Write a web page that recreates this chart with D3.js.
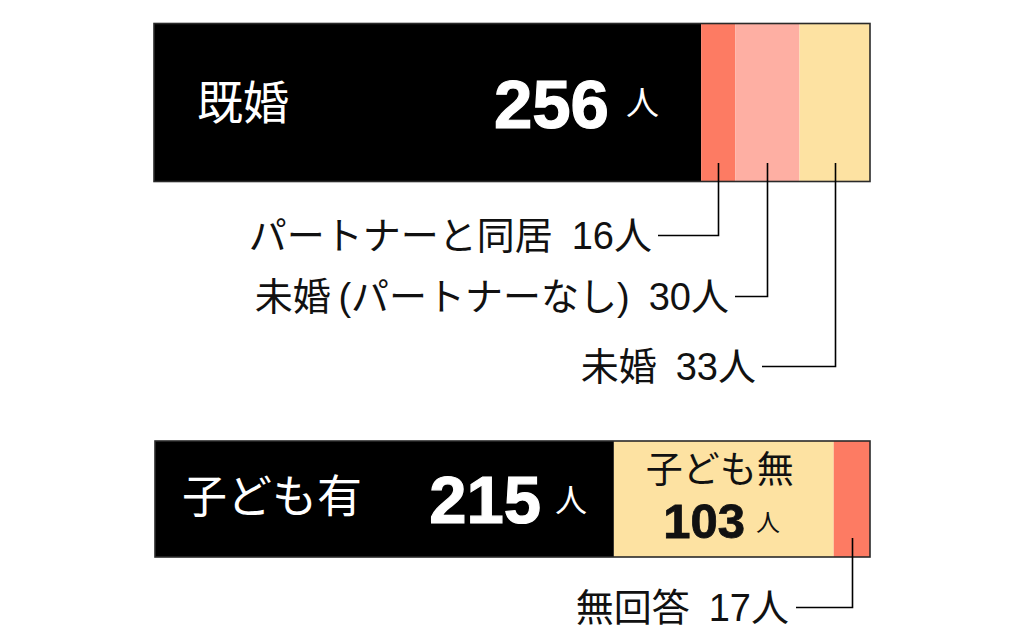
<!DOCTYPE html>
<html><head><meta charset="utf-8">
<script src="https://cdn.jsdelivr.net/npm/d3@7"></script>
<style>html,body{margin:0;padding:0;background:#fff;}svg{display:block;}</style>
</head><body>
<script>
// ---- data ----
const maritalCategories = ["既婚", "パートナーと同居", "未婚\u2009(パートナーなし)", "未婚"];
const maritalValues = [256, 16, 30, 33];
const childCategories = ["子ども有", "子ども無", "無回答"];
const childValues = [215, 103, 17];
const unit = "人";

// ---- layout ----
const W = 1020, H = 637;
const colors = ["#000000", "#fd7b63", "#feafa3", "#fde2a2"];
const childColors = ["#000000", "#fde2a2", "#fd7b63"];
const latin = "'Liberation Sans', 'Noto Sans CJK JP', sans-serif";
const cjk = "'Liberation Sans', 'Noto Sans CJK JP', sans-serif";
const gap = "\u2002";

const svg = d3.select("body").append("svg").attr("width", W).attr("height", H);

function stackOf(vals) {
  let acc = 0;
  return vals.map((v, i) => { const s = {i, v, x0: acc, x1: acc + v}; acc += v; return s; });
}

const totalTop = d3.sum(maritalValues);
const totalBot = d3.sum(childValues);
const xTop = d3.scaleLinear().domain([0, totalTop]).range([154, 870]);
const xBot = d3.scaleLinear().domain([0, totalBot]).range([155, 870]);

// top bar
const topY = 23.5, topH = 158;
const gTop = svg.append("g");
const sTop = stackOf(maritalValues);
gTop.selectAll("rect.seg").data(sTop).join("rect")
  .attr("x", d => xTop(d.x0)).attr("y", topY)
  .attr("width", d => xTop(d.x1) - xTop(d.x0)).attr("height", topH)
  .attr("fill", d => colors[d.i]);
gTop.append("rect").attr("x", xTop(0)).attr("y", topY)
  .attr("width", xTop(totalTop) - xTop(0)).attr("height", topH)
  .attr("fill", "none").attr("stroke", "#2a2a2a").attr("stroke-width", 1.6);

gTop.append("text").attr("x", 197).attr("y", 103).attr("dominant-baseline", "central")
  .attr("fill", "#fff").attr("font-family", cjk).attr("font-size", 46)
  .text(maritalCategories[0]);
gTop.append("text").attr("x", 609).attr("y", 128).attr("text-anchor", "end")
  .attr("fill", "#fff").attr("font-family", latin).attr("font-weight", 700).attr("font-size", 69)
  .attr("stroke", "#fff").attr("stroke-width", 1.2)
  .text(maritalValues[0]);
gTop.append("text").attr("x", 626).attr("y", 103).attr("dominant-baseline", "central")
  .attr("fill", "#fff").attr("font-family", cjk).attr("font-size", 33)
  .text(unit);

// top callouts
const topLabelY = [null, 235, 296, 366];
const topLabelX = [null, 652, 729, 756];
sTop.slice(1).forEach(d => {
  const cx = Math.round((xTop(d.x0) + xTop(d.x1)) / 2) + 0.5;
  const ly = topLabelY[d.i] + 0.5;
  const lx = topLabelX[d.i];
  gTop.append("path")
    .attr("d", `M${cx},163 V${ly} H${lx + 6}`)
    .attr("fill", "none").attr("stroke", "#000").attr("stroke-width", 1.6);
  gTop.append("text").attr("x", lx).attr("y", ly).attr("dominant-baseline", "central")
    .attr("text-anchor", "end").attr("fill", "#111").attr("font-family", cjk).attr("font-size", 38)
    .text(maritalCategories[d.i] + gap + d.v + unit);
});

// bottom bar
const botY = 441, botH = 116;
const gBot = svg.append("g");
const sBot = stackOf(childValues);
gBot.selectAll("rect.seg").data(sBot).join("rect")
  .attr("x", d => xBot(d.x0)).attr("y", botY)
  .attr("width", d => xBot(d.x1) - xBot(d.x0)).attr("height", botH)
  .attr("fill", d => childColors[d.i]);
gBot.append("rect").attr("x", xBot(0)).attr("y", botY)
  .attr("width", xBot(totalBot) - xBot(0)).attr("height", botH)
  .attr("fill", "none").attr("stroke", "#2a2a2a").attr("stroke-width", 1.6);

gBot.append("text").attr("x", 182).attr("y", 497).attr("dominant-baseline", "central")
  .attr("fill", "#fff").attr("font-family", cjk).attr("font-size", 45)
  .text(childCategories[0]);
gBot.append("text").attr("x", 541).attr("y", 523).attr("text-anchor", "end")
  .attr("fill", "#fff").attr("font-family", latin).attr("font-weight", 700).attr("font-size", 67)
  .attr("stroke", "#fff").attr("stroke-width", 1.2)
  .text(childValues[0]);
gBot.append("text").attr("x", 555).attr("y", 501).attr("dominant-baseline", "central")
  .attr("fill", "#fff").attr("font-family", cjk).attr("font-size", 32)
  .text(unit);

// inside second segment
const s1 = sBot[1];
const c1 = (xBot(s1.x0) + xBot(s1.x1)) / 2;
gBot.append("text").attr("x", c1 - 4).attr("y", 470).attr("dominant-baseline", "central")
  .attr("text-anchor", "middle").attr("fill", "#111").attr("font-family", cjk).attr("font-size", 37)
  .text(childCategories[1]);
gBot.append("text").attr("x", 745).attr("y", 538).attr("text-anchor", "end")
  .attr("fill", "#111").attr("font-family", latin).attr("font-weight", 700).attr("font-size", 49)
  .attr("stroke", "#111").attr("stroke-width", 0.8)
  .text(s1.v);
gBot.append("text").attr("x", 756).attr("y", 522).attr("dominant-baseline", "central")
  .attr("fill", "#111").attr("font-family", cjk).attr("font-size", 24)
  .text(unit);

// bottom callout
const s2 = sBot[2];
const c2 = Math.round((xBot(s2.x0) + xBot(s2.x1)) / 2) + 0.5;
gBot.append("path").attr("d", `M${c2},538 V607.5 H796`)
  .attr("fill", "none").attr("stroke", "#000").attr("stroke-width", 1.6);
gBot.append("text").attr("x", 789).attr("y", 607.5).attr("dominant-baseline", "central")
  .attr("text-anchor", "end").attr("fill", "#111").attr("font-family", cjk).attr("font-size", 38)
  .text(childCategories[2] + gap + s2.v + unit);
</script>
</body></html>
